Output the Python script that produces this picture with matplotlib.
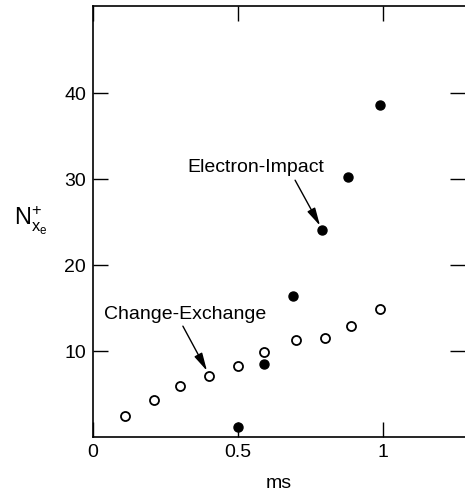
import matplotlib
matplotlib.use("Agg")
import matplotlib.pyplot as plt

plt.rcParams['font.family'] = ['Liberation Sans', 'DejaVu Sans']
plt.rcParams['mathtext.fontset'] = 'custom'
plt.rcParams['mathtext.rm'] = 'Liberation Sans'
plt.rcParams['mathtext.it'] = 'Liberation Sans'

# electron-impact (filled dots)
ei_t = [0.50, 0.59, 0.69, 0.79, 0.88, 0.99]
ei_n = [1.1, 8.5, 16.4, 24.1, 30.3, 38.7]

# charge-exchange (open circles)
cx_t = [0.11, 0.21, 0.30, 0.40, 0.50, 0.59, 0.70, 0.80, 0.89, 0.99]
cx_n = [2.4, 4.3, 5.9, 7.1, 8.3, 9.9, 11.3, 11.5, 12.9, 14.9]

xticks = [0, 0.5, 1]
xtick_labels = ['0', '0.5', '1']
yticks = [10, 20, 30, 40]

fig = plt.figure(figsize=(4.65, 4.92), dpi=100)
ax = fig.add_axes([0.2, 0.112, 0.8, 0.876])

ax.plot(cx_t, cx_n, 'o', mfc='white', mec='black', mew=1.3, ms=6.5, zorder=3)
ax.plot(ei_t, ei_n, 'o', color='black', ms=6.5, zorder=3)

ax.set_xlim(0, 1.283)
ax.set_ylim(0, 50.2)

ax.set_xticks(xticks)
ax.set_xticklabels(xtick_labels)
ax.set_yticks(yticks)
ax.tick_params(direction='in', length=11, width=1, labelsize=14,
               top=True, right=True, pad=5)
ax.spines['right'].set_visible(False)
for s in ['left', 'bottom', 'top']:
    ax.spines[s].set_linewidth(1.2)

ax.set_xlabel('ms', fontsize=14, labelpad=10)
ax.set_ylabel(r'N$_{\mathregular{x_e}}^{+}$', fontsize=17, rotation=0,
              labelpad=24, va='center')

arrow = dict(arrowstyle='-|>,head_length=0.9,head_width=0.22', color='black',
             lw=1, shrinkA=0, shrinkB=0, mutation_scale=12)
ax.text(0.56, 31.4, 'Electron-Impact', fontsize=14, ha='center', va='center')
ax.annotate('', xy=(0.783, 24.6), xytext=(0.697, 29.9), arrowprops=arrow)
ax.text(0.317, 14.3, 'Change-Exchange', fontsize=14, ha='center', va='center')
ax.annotate('', xy=(0.393, 7.7), xytext=(0.31, 12.9), arrowprops=arrow)

fig.savefig('out.png', dpi=100)
